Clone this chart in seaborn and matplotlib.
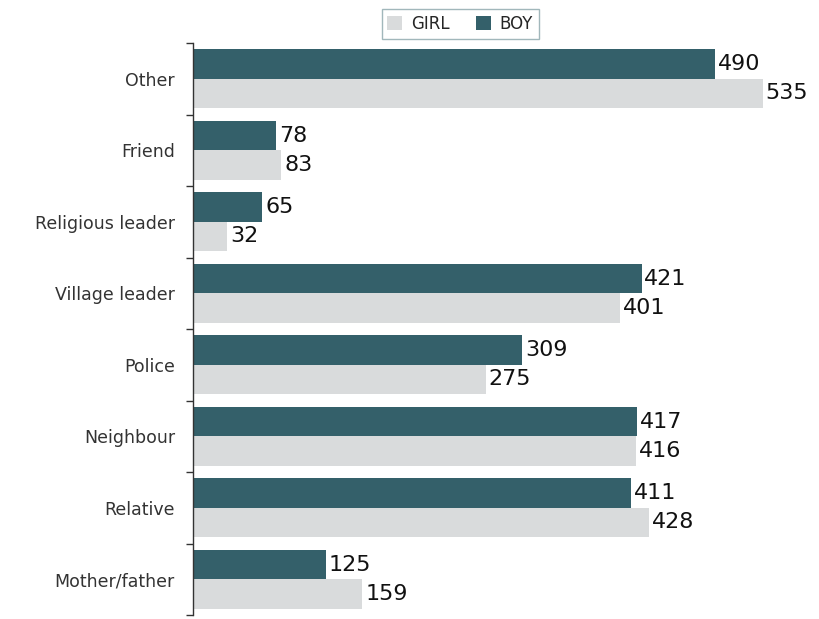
import matplotlib
matplotlib.use("Agg")
import matplotlib.pyplot as plt
import seaborn as sns
import pandas as pd

categories = ["Other", "Friend", "Religious leader", "Village leader", "Police",
              "Neighbour", "Relative", "Mother/father"]
boy = [490, 78, 65, 421, 309, 417, 411, 125]
girl = [535, 83, 32, 401, 275, 416, 428, 159]

df = pd.DataFrame({
    "category": categories * 2,
    "value": boy + girl,
    "sex": ["BOY"] * len(categories) + ["GIRL"] * len(categories),
})

sns.set_style("white")
plt.rcParams['font.family'] = ['DejaVu Sans']

fig = plt.figure(figsize=(8.2, 6.19), dpi=100)
ax = fig.add_axes([193 / 820, 1 - 615 / 619, (800 - 193) / 820, (615 - 43) / 619])

palette = {"BOY": "#34606a", "GIRL": "#d9dbdc"}
sns.barplot(data=df, y="category", x="value", hue="sex", order=categories,
            hue_order=["BOY", "GIRL"], palette=palette, orient="h",
            width=0.82, ax=ax, saturation=1, edgecolor="none")

ax.set_xlim(0, (800 - 193) / (570 / 535))
ax.set_ylim(len(categories) - 0.5, -0.5)
ax.set_xlabel("")
ax.set_ylabel("")
ax.set_xticks([])
for s in ["top", "right", "bottom"]:
    ax.spines[s].set_visible(False)
ax.spines["left"].set_color("#333333")
ax.spines["left"].set_linewidth(1.0)

ax.set_yticks(range(len(categories)))
ax.set_yticklabels(categories, fontsize=12.5, color="#333333")
ax.tick_params(axis="y", which="major", left=False, length=0, pad=13)
ax.set_yticks([i - 0.5 for i in range(len(categories) + 1)], minor=True)
ax.tick_params(axis="y", which="minor", left=True, length=5, color="#333333", width=1)

for cont in ax.containers:
    ax.bar_label(cont, labels=[f"{int(v)}" for v in cont.datavalues],
                 padding=2, fontsize=16, color="#111111")

handles, labels = ax.get_legend_handles_labels()
order = [labels.index("GIRL"), labels.index("BOY")]
ax.legend([handles[i] for i in order], [labels[i] for i in order],
          loc="upper center", bbox_to_anchor=(460 / 820, 1 - 9 / 619),
          bbox_transform=fig.transFigure, ncol=2, frameon=True,
          fancybox=False, edgecolor="#8aa5aa", fontsize=12,
          handlelength=0.9, handleheight=0.9, columnspacing=1.6,
          handletextpad=0.5, borderpad=0.35, borderaxespad=0)

fig.savefig("out.png", dpi=100)
